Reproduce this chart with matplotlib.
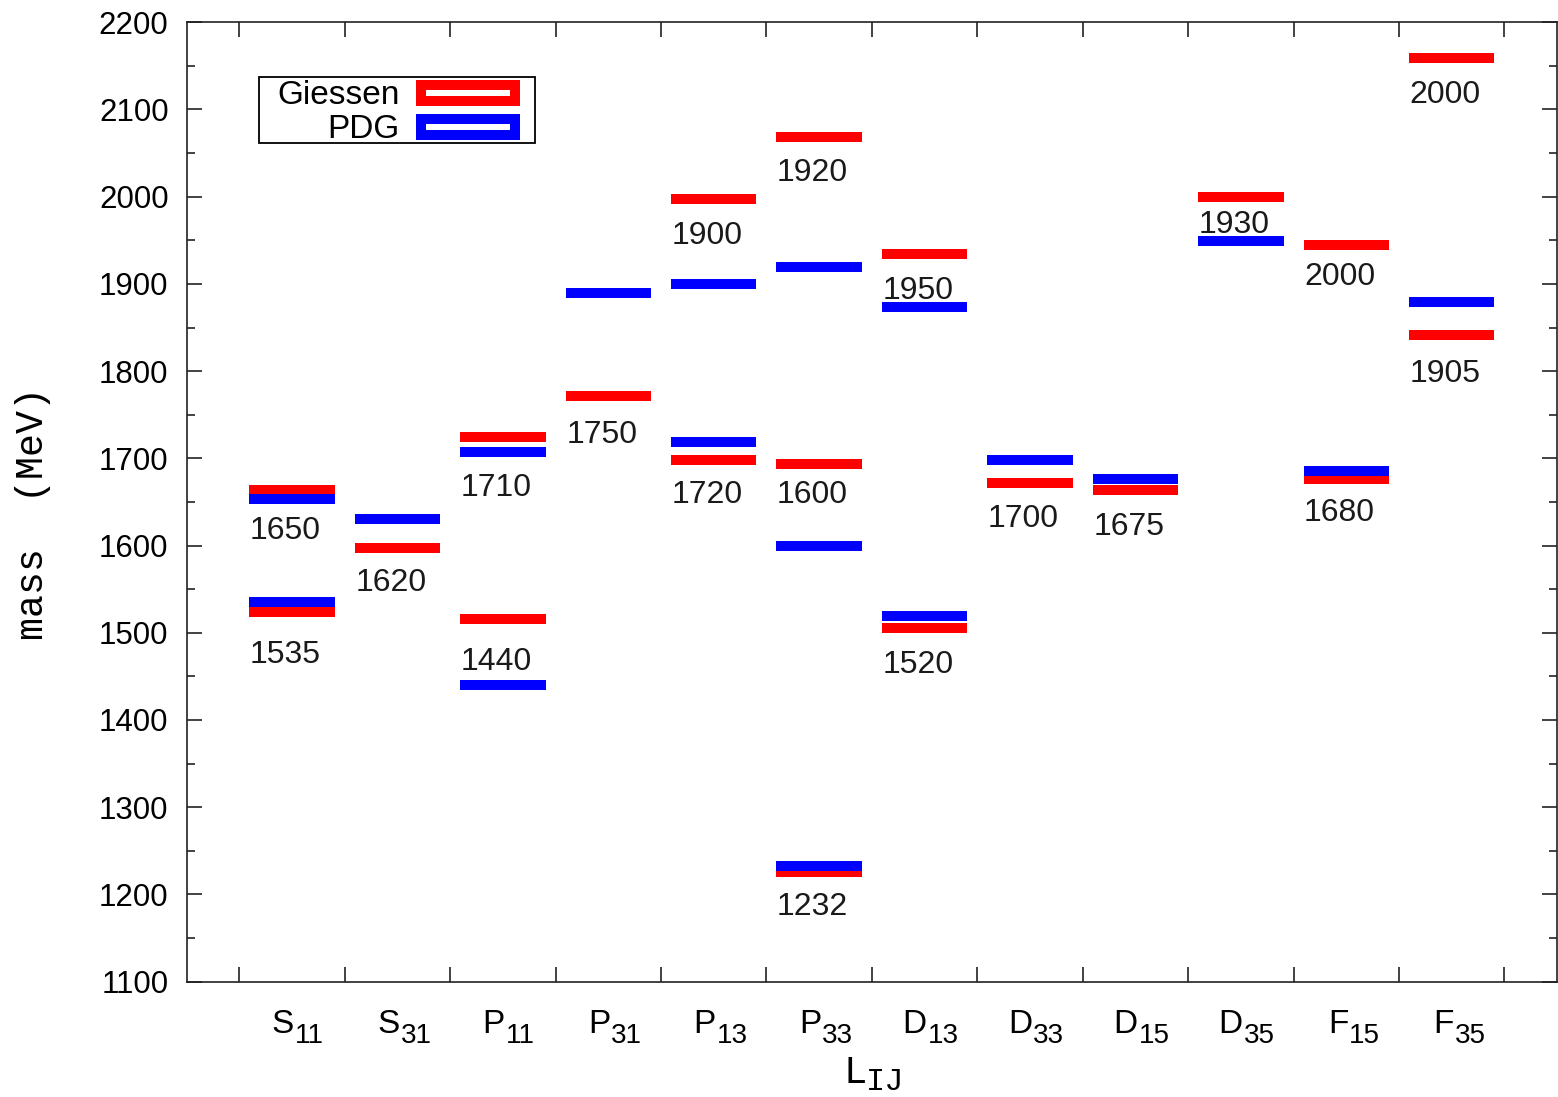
import matplotlib
matplotlib.use("Agg")
import matplotlib.pyplot as plt
from matplotlib.patches import Rectangle
from matplotlib.ticker import MultipleLocator, FixedLocator, NullFormatter

plt.rcParams['font.family'] = ['Liberation Sans', 'DejaVu Sans']

# partial waves L_IJ
waves = ['S11', 'S31', 'P11', 'P31', 'P13', 'P33', 'D13', 'D33', 'D15', 'D35', 'F15', 'F35']

# Giessen masses (MeV), index into waves
giessen_wave = [0, 0, 1, 2, 2, 3, 4, 4, 5, 5, 5, 6, 6, 7, 8, 9, 10, 10, 11, 11]
giessen_mass = [1664, 1524, 1597, 1724, 1516, 1772, 1997, 1698, 2068, 1693, 1226,
                1934, 1505, 1672, 1664, 2000, 1945, 1676, 2159, 1841]

# PDG masses (MeV)
pdg_wave = [0, 0, 1, 2, 2, 3, 4, 4, 5, 5, 5, 6, 6, 7, 8, 9, 10, 11]
pdg_mass = [1653, 1535, 1630, 1707, 1440, 1889, 1900, 1719, 1919, 1600, 1232,
            1874, 1519, 1698, 1676, 1949, 1685, 1879]

# state names written next to the levels
note_text = ['1650', '1535', '1620', '1710', '1440', '1750', '1900', '1720', '1920', '1600',
             '1232', '1950', '1520', '1700', '1675', '1930', '2000', '1680', '2000', '1905']
note_wave = [0, 0, 1, 2, 2, 3, 4, 4, 5, 5, 5, 6, 6, 7, 8, 9, 10, 10, 11, 11]
note_mass = [1617, 1475, 1557, 1666, 1466, 1727, 1955, 1658, 2027, 1658,
             1186, 1892, 1463, 1631, 1621, 1968, 1908, 1637, 2117, 1797]

half = 0.405
lw = 7.2

fig = plt.figure(figsize=(15.58, 10.97), dpi=100)
ax = fig.add_axes([0.1198, 0.1052, 0.8796, 0.8745])

gx = [i + 1 for i in giessen_wave]
px = [i + 1 for i in pdg_wave]
ax.hlines(giessen_mass, [x - half for x in gx], [x + half for x in gx],
          colors='#ff0000', linewidth=lw, zorder=2)
ax.hlines(pdg_mass, [x - half for x in px], [x + half for x in px],
          colors='#0000ff', linewidth=lw, zorder=3)

for t, w, m in zip(note_text, note_wave, note_mass):
    ax.text(w + 1 - half + 0.005, m, t, ha='left', va='center', fontsize=23, color='#1a1a1a', zorder=4)

ax.set_xlim(0, 13)
ax.set_ylim(1100, 2200)

ax.xaxis.set_major_locator(FixedLocator([i + 0.5 for i in range(13)]))
ax.xaxis.set_major_formatter(NullFormatter())
ax.yaxis.set_major_locator(MultipleLocator(100))
ax.yaxis.set_minor_locator(MultipleLocator(50))

ax.tick_params(which='both', direction='in', top=True, right=True, width=1.2, color='#222222')
ax.tick_params(which='major', length=10.5)
ax.tick_params(axis='y', which='minor', length=5.5)
ax.tick_params(axis='y', which='major', pad=13, labelsize=22.5)
for s in ax.spines.values():
    s.set_linewidth(1.2)
    s.set_color('#222222')

# category names with large subscripts
for i, w in enumerate(waves):
    ax.annotate(w[0], xy=(i + 1, 0), xycoords=('data', 'axes fraction'), xytext=(2, -51),
                textcoords='offset pixels', ha='right', va='baseline', fontsize=24)
    ax.annotate(w[1:], xy=(i + 1, 0), xycoords=('data', 'axes fraction'), xytext=(3, -61),
                textcoords='offset pixels', ha='left', va='baseline', fontsize=20)

# x label L_IJ
ax.annotate('L', xy=(0.5, 0), xycoords='axes fraction', xytext=(-5, -101),
            textcoords='offset pixels', ha='right', va='baseline', fontsize=28, family='Liberation Mono')
ax.annotate('IJ', xy=(0.5, 0), xycoords='axes fraction', xytext=(-6, -108),
            textcoords='offset pixels', ha='left', va='baseline', fontsize=23, family='Liberation Mono')

ax.set_ylabel('mass  (MeV)', family='Liberation Mono', fontsize=27.5)
ax.yaxis.set_label_coords(-0.099, 0.488)

# key
ax.add_patch(Rectangle((0.0528, 0.8746), 0.2014, 0.0688, transform=ax.transAxes,
                       facecolor='white', edgecolor='black', linewidth=1.3, zorder=5))
ax.text(0.1556, 0.9152, 'Giessen', transform=ax.transAxes, ha='right', va='baseline',
        fontsize=24, zorder=6)
ax.text(0.1556, 0.8798, 'PDG', transform=ax.transAxes, ha='right', va='baseline',
        fontsize=24, zorder=6)
ax.add_patch(Rectangle((0.171, 0.9183), 0.0686, 0.0167, transform=ax.transAxes,
                       facecolor='white', edgecolor='#ff0000', linewidth=lw, zorder=6))
ax.add_patch(Rectangle((0.171, 0.8829), 0.0686, 0.0167, transform=ax.transAxes,
                       facecolor='white', edgecolor='#0000ff', linewidth=lw, zorder=6))

fig.savefig('out.png', dpi=100)
